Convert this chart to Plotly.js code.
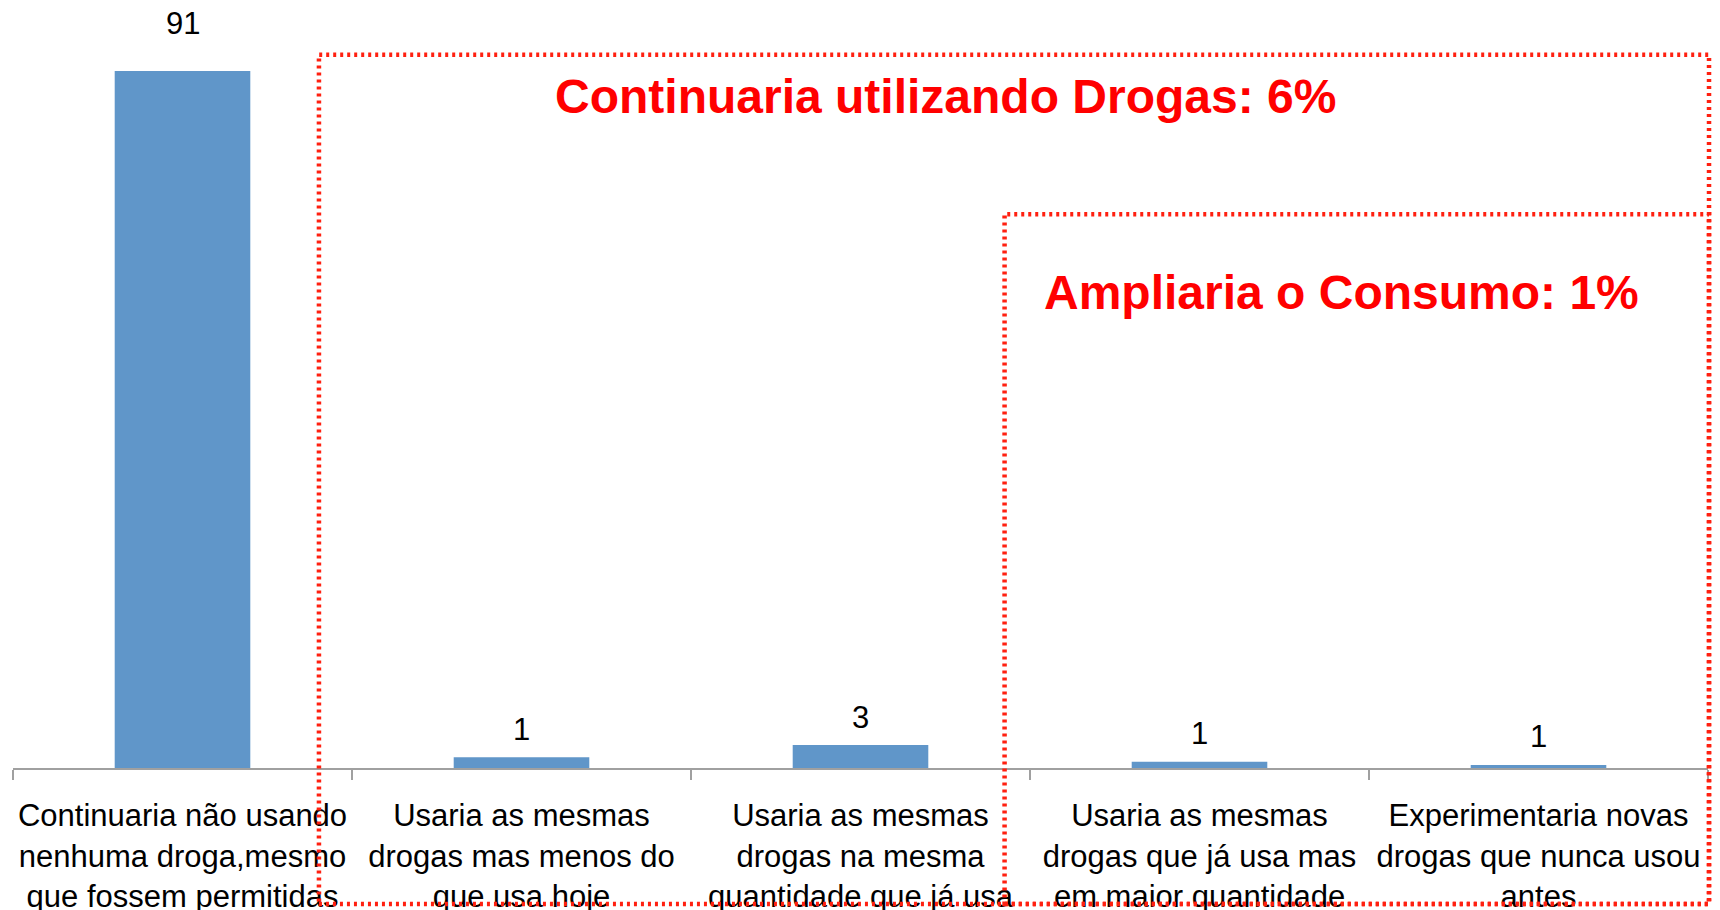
<!DOCTYPE html>
<html>
<head>
<meta charset="utf-8">
<script src="https://cdn.plot.ly/plotly-3.0.1.min.js"></script>
<style>
  html, body { margin: 0; padding: 0; background: #fff; }
  #chart { width: 1720px; height: 910px; }
</style>
</head>
<body>
<div id="chart"></div>
<script>
// respostas (%)
var categorias = [
  "Continuaria não usando<br>nenhuma droga,mesmo<br>que fossem permitidas",
  "Usaria as mesmas<br>drogas mas menos do<br>que usa hoje",
  "Usaria as mesmas<br>drogas na mesma<br>quantidade que já usa",
  "Usaria as mesmas<br>drogas que já usa mas<br>em maior quantidade",
  "Experimentaria novas<br>drogas que nunca usou<br>antes"
];
var valores = [91, 1.4, 3.0, 0.8, 0.4];
var rotulos = ["91", "1", "3", "1", "1"];

var vermelho = "#ff2010";

var trace1 = {
  x: categorias,
  y: valores,
  type: 'bar',
  marker: { color: '#6096c9' },
  hoverinfo: 'none',
  cliponaxis: false
};

// rotulos de dados acima das barras
var anotacoes = valores.map(function(v, i){
  return {
    x: categorias[i], y: v, xref: 'x', yref: 'y',
    text: rotulos[i], showarrow: false,
    xanchor: 'center', yanchor: 'middle', yshift: (i == 0 ? 47 : 28),
    font: { family: 'Liberation Sans, Arial, sans-serif', size: 31, color: '#000' }
  };
});

anotacoes.push({
  xref: 'paper', yref: 'paper', x: 0.5504, y: 0.876,
  xanchor: 'center', yanchor: 'middle',
  text: '<b>Continuaria utilizando Drogas: 6%</b>', showarrow: false,
  font: { family: 'Liberation Sans, Arial, sans-serif', size: 48, color: '#ff0000' }
});
anotacoes.push({
  xref: 'paper', yref: 'paper', x: 0.784, y: 0.621,
  xanchor: 'center', yanchor: 'middle',
  text: '<b>Ampliaria o Consumo: 1%</b>', showarrow: false,
  font: { family: 'Liberation Sans, Arial, sans-serif', size: 48, color: '#ff0000' }
});

var layout = {
  width: 1720,
  height: 910,
  margin: { l: 13, r: 12, t: 2, b: 142 },
  paper_bgcolor: '#fff',
  plot_bgcolor: '#fff',
  showlegend: false,
  bargap: 0.6,
  font: { family: 'Liberation Sans, Arial, sans-serif', color: '#000' },
  xaxis: {
    type: 'category',
    showline: true, linecolor: '#a0a0a0', linewidth: 2,
    ticks: 'outside', tickson: 'boundaries', ticklen: 10,
    tickcolor: '#a0a0a0', tickwidth: 2,
    tickangle: 0,
    ticklabelstandoff: 19,
    tickfont: { size: 31, color: '#000' },
    showgrid: false, zeroline: false,
    fixedrange: true
  },
  yaxis: {
    range: [0, 100],
    visible: false,
    showgrid: false, zeroline: false,
    fixedrange: true
  },
  annotations: anotacoes,
  shapes: [
    { type: 'rect', xref: 'paper', yref: 'paper', x0: 0.1805, x1: 1.0006, y0: -0.1775, y1: 0.931,
      line: { color: vermelho, width: 4.5, dash: '3px,4px' }, layer: 'above' },
    { type: 'rect', xref: 'paper', yref: 'paper', x0: 0.585, x1: 1.0006, y0: -0.1775, y1: 0.723,
      line: { color: vermelho, width: 4.5, dash: '3px,4px' }, layer: 'above' }
  ]
};

var config = { displayModeBar: false, responsive: false };

Plotly.newPlot('chart', [trace1], layout, config);
</script>
</body>
</html>
